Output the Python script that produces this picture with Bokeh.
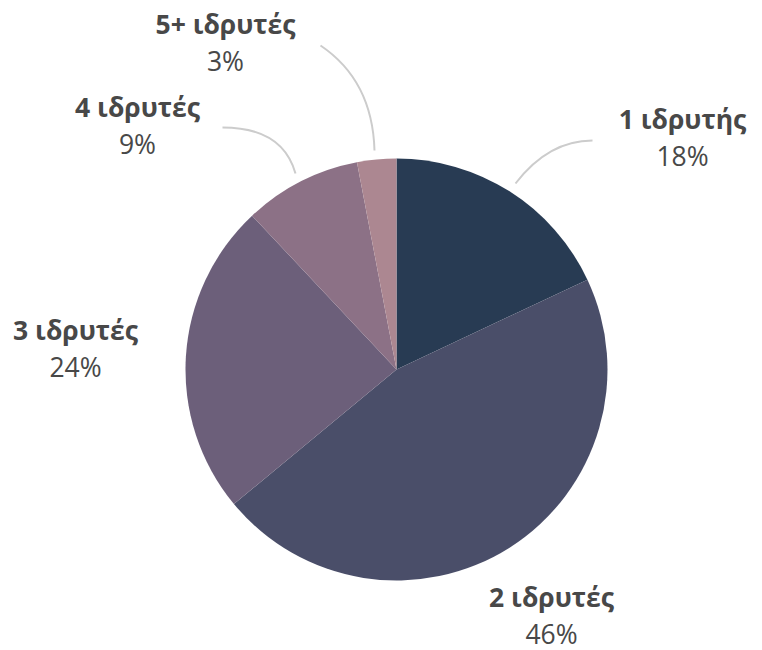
import math
from bokeh.plotting import figure
from bokeh.models import Range1d, ColumnDataSource
from bokeh.core.properties import value
from bokeh.embed import file_html
from bokeh.resources import INLINE

categories = ["1 ιδρυτής", "2 ιδρυτές", "3 ιδρυτές", "4 ιδρυτές", "5+ ιδρυτές"]
shares = [18, 46, 24, 9, 3]
colors = ["#283b53", "#4a4e69", "#6c5f7a", "#8c7186", "#ac8791"]

# layout (screen-like coords, y measured downward, converted below)
cx, cy, r = 396, 369, 211
# label centre x and middle y of the category line
label_pos = [(682, 118), (551, 596), (75, 329), (137, 106), (225, 23)]
pct_offset = 37
leaders = [
    # (x0, y0, x1, y1, ctrl x, ctrl y) or None
    (515, 183, 592, 140, 548, 140),
    None,
    None,
    (295, 173, 222, 127, 282, 127),
    (374, 150, 320, 45, 372, 80),
]

W, H = 762, 650
p = figure(width=W, height=H, output_backend="svg", toolbar_location=None,
           x_range=Range1d(0, W), y_range=Range1d(-H, 0),
           min_border=0)
p.axis.visible = False
p.grid.visible = False
p.outline_line_color = None

total = sum(shares)
starts, ends = [], []
acc = 0
for s in shares:
    starts.append(math.pi / 2 - 2 * math.pi * acc / total)
    acc += s
    ends.append(math.pi / 2 - 2 * math.pi * acc / total)

src = ColumnDataSource(dict(start=starts, end=ends, color=colors))
p.wedge(x=cx, y=-cy, radius=r, start_angle="start", end_angle="end",
        direction="clock", fill_color="color", line_color=None, source=src)

for ld in leaders:
    if ld is None:
        continue
    x0, y0, x1, y1, qx, qy = ld
    p.quadratic(x0=[x0], y0=[-y0], x1=[x1], y1=[-y1], cx=[qx], cy=[-qy],
                line_color="#cccccc", line_width=2)

lx = [lp[0] for lp in label_pos]
ly = [-lp[1] for lp in label_pos]
py = [-(lp[1] + pct_offset) for lp in label_pos]
pct_text = [f"{s}%" for s in shares]

p.text(x=lx, y=ly, text=categories, text_align="center", text_baseline="middle",
       text_font=value("Open Sans"), text_font_style="bold",
       text_font_size="26.5px", text_color="#484848")
p.text(x=lx, y=py, text=pct_text, text_align="center", text_baseline="middle",
       text_font=value("Open Sans"), text_font_size="26.5px", text_color="#484848")

open("out.html", "w").write(file_html(p, INLINE))
